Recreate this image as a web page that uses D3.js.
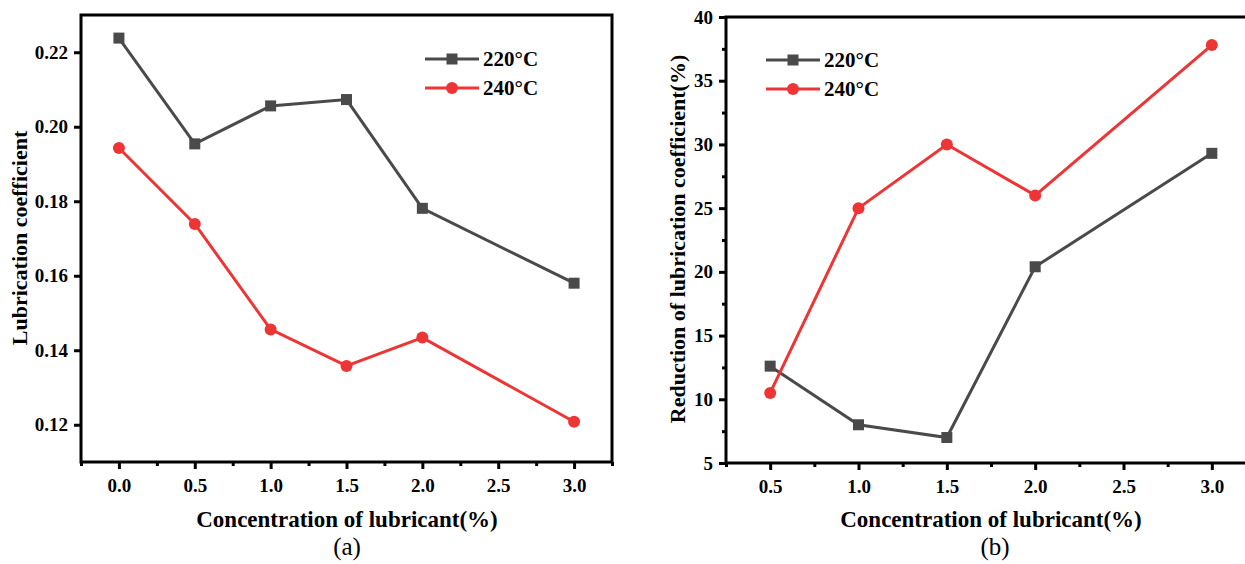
<!DOCTYPE html>
<html><head><meta charset="utf-8">
<script src="https://cdn.jsdelivr.net/npm/d3@7"></script>
<style>body{margin:0;background:#fff}svg{display:block}</style>
</head><body>
<svg id="c" width="1245" height="564"></svg>
<script>
// Panel (a) data
const concA = [0.0, 0.5, 1.0, 1.5, 2.0, 3.0];
const coef220 = [0.2238, 0.1954, 0.2056, 0.2073, 0.1781, 0.1580];
const coef240 = [0.1943, 0.1739, 0.1456, 0.1358, 0.1434, 0.1208];
const xTicksA = [0.0, 0.5, 1.0, 1.5, 2.0, 2.5, 3.0];
const yTicksA = [0.12, 0.14, 0.16, 0.18, 0.20, 0.22];
// Panel (b) data
const concB = [0.5, 1.0, 1.5, 2.0, 3.0];
const red220 = [12.6, 8.0, 7.0, 20.4, 29.3];
const red240 = [10.5, 25.0, 30.0, 26.0, 37.8];
const xTicksB = [0.5, 1.0, 1.5, 2.0, 2.5, 3.0];
const yTicksB = [5, 10, 15, 20, 25, 30, 35, 40];
const seriesNames = ["220°C", "240°C"];

const GRAY = "#4a4a4a", RED = "#ee3536";
const FONT = '"Liberation Serif","Times New Roman",serif';
const svg = d3.select("#c");

function txt(sel, size, bold) {
  return sel.style("font-family", FONT).style("font-size", size + "px").style("font-weight", bold ? "bold" : "normal").attr("fill", "#000");
}

function panel(o){
  const g = svg.append("g");
  const x = d3.scaleLinear().domain(o.xd).range([o.l, o.r]);
  const y = d3.scaleLinear().domain(o.yd).range([o.b, o.t]);
  const xMinor = d3.range(o.xd[0], o.xd[1] + 1e-9, 0.25).filter(v => !o.xt.some(t => Math.abs(t - v) < 1e-6));
  g.append("g").attr("transform", `translate(0,${o.b})`)
    .call(d3.axisBottom(x).tickValues(xMinor).tickSize(4).tickFormat(""))
    .call(s => { s.select(".domain").remove(); s.selectAll("line").attr("stroke-width", 3); });
  if (o.yMinor) {
    const yMin = d3.range(o.yd[0], o.yd[1] + 1e-9, o.yMinor).filter(v => !o.yt.some(t => Math.abs(t - v) < 1e-6));
    g.append("g").attr("transform", `translate(${o.l},0)`)
      .call(d3.axisLeft(y).tickValues(yMin).tickSize(4).tickFormat(""))
      .call(s => { s.select(".domain").remove(); s.selectAll("line").attr("stroke-width", 3); });
  }
  const xa = g.append("g").attr("transform", `translate(0,${o.b})`)
    .call(d3.axisBottom(x).tickValues(o.xt).tickSize(7).tickPadding(10).tickFormat(d3.format(".1f")));
  const ya = g.append("g").attr("transform", `translate(${o.l},0)`)
    .call(d3.axisLeft(y).tickValues(o.yt).tickSize(7).tickPadding(6).tickFormat(o.yf));
  [xa, ya].forEach(a => {
    a.select(".domain").remove();
    a.selectAll("line").attr("stroke", "#000").attr("stroke-width", 3);
    txt(a.selectAll("text"), 19, true);
  });
  g.append("rect").attr("x", o.l).attr("y", o.t).attr("width", o.r - o.l).attr("height", o.b - o.t)
    .attr("fill", "none").attr("stroke", "#000").attr("stroke-width", 3);
  const line = d3.line().x(d => x(d[0])).y(d => y(d[1]));
  const s1 = o.xs.map((v, i) => [v, o.s1[i]]);
  const s2 = o.xs.map((v, i) => [v, o.s2[i]]);
  g.append("path").datum(s1).attr("d", line).attr("fill", "none").attr("stroke", GRAY).attr("stroke-width", 3);
  g.append("path").datum(s2).attr("d", line).attr("fill", "none").attr("stroke", RED).attr("stroke-width", 3);
  g.selectAll(".sq").data(s1).join("rect").attr("x", d => x(d[0]) - 5.5).attr("y", d => y(d[1]) - 5.5)
    .attr("width", 11).attr("height", 11).attr("fill", GRAY);
  g.selectAll(".ci").data(s2).join("circle").attr("cx", d => x(d[0])).attr("cy", d => y(d[1]))
    .attr("r", 6).attr("fill", RED);
  const lg = g.append("g");
  [[GRAY, "sq", o.leg[1]], [RED, "ci", o.leg[1] + 29]].forEach((e, i) => {
    lg.append("line").attr("x1", o.leg[0]).attr("x2", o.leg[0] + 54).attr("y1", e[2]).attr("y2", e[2])
      .attr("stroke", e[0]).attr("stroke-width", 3);
    if (e[1] === "sq") lg.append("rect").attr("x", o.leg[0] + 27 - 5.5).attr("y", e[2] - 5.5).attr("width", 11).attr("height", 11).attr("fill", e[0]);
    else lg.append("circle").attr("cx", o.leg[0] + 27).attr("cy", e[2]).attr("r", 6).attr("fill", e[0]);
    txt(lg.append("text").attr("x", o.leg[0] + 58).attr("y", e[2] + 7).text(seriesNames[i]), 21, true);
  });
  txt(g.append("text").attr("x", o.xtX).attr("y", 527).attr("text-anchor", "middle")
    .text("Concentration of lubricant(%)"), 23, true);
  txt(g.append("text").attr("transform", `translate(${o.ytx},${o.yty}) rotate(-90)`).attr("text-anchor", "middle")
    .text(o.ytitle), 22, true);
  txt(g.append("text").attr("x", o.labX).attr("y", 555).attr("text-anchor", "middle").text(o.lab), 25, false);
}

panel({l: 81, r: 612, t: 15, b: 462, xd: [-0.25, 3.25], yd: [0.11, 0.23], xt: xTicksA, yt: yTicksA,
  yf: d3.format(".2f"), xs: concA, s1: coef220, s2: coef240, leg: [425, 59],
  ytitle: "Lubrication coefficient", ytx: 27, yty: 238, lab: "(a)", labX: 347, xtX: 347});
panel({l: 726, r: 1256, t: 17, b: 463, xd: [0.25, 3.25], yd: [5, 40], xt: xTicksB, yt: yTicksB, yMinor: 2.5,
  yf: d3.format("d"), xs: concB, s1: red220, s2: red240, leg: [766, 60],
  ytitle: "Reduction of lubrication coefficient(%)", ytx: 685, yty: 239, lab: "(b)", labX: 995, xtX: 991});
</script>
</body></html>
